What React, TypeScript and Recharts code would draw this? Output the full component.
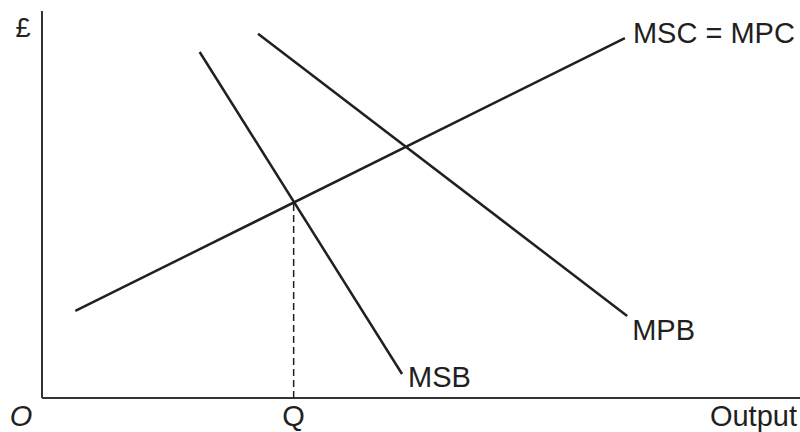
import { LineChart, Line, XAxis, YAxis, ReferenceLine, Label } from "recharts"

// curve end points, in output / £ units (both axes run 0..100)
const msc = [
  { q: 4.4, p: 22.5 },
  { q: 76.9, p: 93.0 },
]
const msb = [
  { q: 20.8, p: 89.4 },
  { q: 47.5, p: 6.2 },
]
const mpb = [
  { q: 28.5, p: 94.1 },
  { q: 77.2, p: 21.2 },
]
const qOutput = 33.2
const qPrice = 50.6

const ink = "#231f20"
const font = "'Liberation Sans', Arial, Helvetica, sans-serif"
const size = 29

const endLabel = (text: string, dx: number, dy: number) => (props: any) => {
  if (props.index !== 1) return <g />
  return (
    <text x={props.x + dx} y={props.y + dy} fontSize={size} fontFamily={font} fill={ink}>
      {text}
    </text>
  )
}

export default function App() {
  return (
    <div style={{ position: "absolute", left: 0, top: 0, background: "#fff" }}>
      <LineChart width={800} height={432} margin={{ top: 11, right: 0, bottom: 34, left: 42 }}>
        <XAxis type="number" dataKey="q" domain={[0, 100]} allowDataOverflow hide />
        <YAxis type="number" dataKey="p" domain={[0, 100]} allowDataOverflow hide />
        <ReferenceLine x={0} stroke="#333" strokeWidth={2}>
          <Label
            content={(p: any) => (
              <text x={p.viewBox.x - 19} y={p.viewBox.y + 26} textAnchor="middle" fontSize={27} fontFamily={font} fill={ink}>
                £
              </text>
            )}
          />
        </ReferenceLine>
        <ReferenceLine y={0} stroke="#333" strokeWidth={2}>
          <Label
            content={(p: any) => (
              <g>
                <text x={p.viewBox.x + p.viewBox.width - 3} y={p.viewBox.y + 28} textAnchor="end" fontSize={size} fontFamily={font} fill={ink}>
                  Output
                </text>
                <text x={p.viewBox.x - 21} y={p.viewBox.y + 28} textAnchor="middle" fontSize={size} fontStyle="italic" fontFamily={font} fill={ink}>
                  O
                </text>
              </g>
            )}
          />
        </ReferenceLine>
        <ReferenceLine
          segment={[
            { x: qOutput, y: 0 },
            { x: qOutput, y: qPrice },
          ]}
          stroke={ink}
          strokeWidth={1.5}
          strokeDasharray="7 4"
        >
          <Label
            content={(p: any) => (
              <text x={p.viewBox.x} y={p.viewBox.y + p.viewBox.height + 28} textAnchor="middle" fontSize={size} fontFamily={font} fill={ink}>
                Q
              </text>
            )}
          />
        </ReferenceLine>
        <Line
          data={msc}
          dataKey="p"
          stroke={ink}
          strokeWidth={2.5}
          dot={false}
          activeDot={false}
          isAnimationActive={false}
          label={endLabel("MSC = MPC", 8, 5)}
        />
        <Line
          data={mpb}
          dataKey="p"
          stroke={ink}
          strokeWidth={2.5}
          dot={false}
          activeDot={false}
          isAnimationActive={false}
          label={endLabel("MPB", 5, 24)}
        />
        <Line
          data={msb}
          dataKey="p"
          stroke={ink}
          strokeWidth={2.5}
          dot={false}
          activeDot={false}
          isAnimationActive={false}
          label={endLabel("MSB", 6, 13)}
        />
      </LineChart>
    </div>
  )
}
